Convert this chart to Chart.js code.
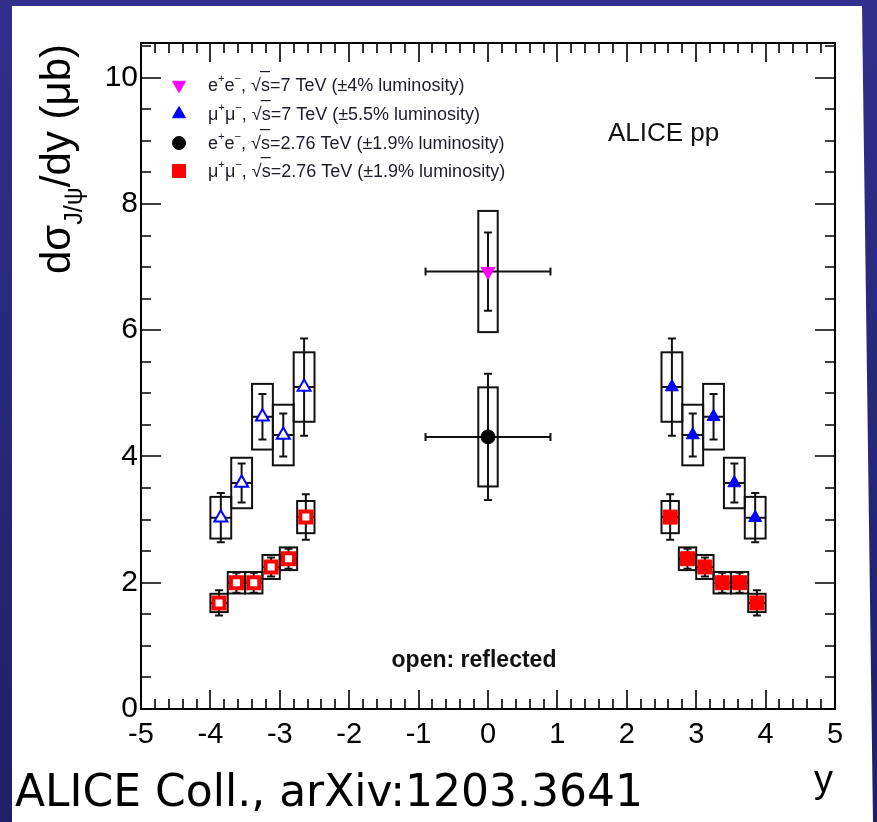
<!DOCTYPE html>
<html><head><meta charset="utf-8">
<script src="https://cdn.jsdelivr.net/npm/chart.js@4.4.1/dist/chart.umd.min.js"></script>
<style>html,body{margin:0;padding:0;background:#2e2d8a;overflow:hidden}#wrap{width:877px;height:822px}</style>
</head><body><div id="wrap"><canvas id="c" width="877" height="822"></canvas></div>
<script>
// ---- tick labels ----
const xTickLabels = [-5,-4,-3,-2,-1,0,1,2,3,4,5];
const yTickLabels = [0,2,4,6,8,10];
const xMinorStep = 0.2, yMinorStep = 0.5;
const xRange = [-5, 5], yRange = [0, 10.55];

// ---- e+e-, sqrt(s)=7 TeV ----
const ee7Y = [0];
const ee7Val = [6.93];
const ee7Stat = [0.62];
const ee7Sys = [0.96];
const ee7XErr = [0.9];

// ---- e+e-, sqrt(s)=2.76 TeV ----
const ee276Y = [0];
const ee276Val = [4.31];
const ee276Stat = [1.0];
const ee276Sys = [0.785];
const ee276XErr = [0.9];
const eeBoxHalf = 0.14;

// ---- mu+mu-, sqrt(s)=7 TeV ----
const mu7Y = [2.65, 2.95, 3.25, 3.55, 3.85];
const mu7Val = [5.10, 4.34, 4.63, 3.58, 3.03];
const mu7Stat = [0.77, 0.34, 0.36, 0.31, 0.39];
const mu7Sys = [0.55, 0.48, 0.52, 0.40, 0.33];
const mu7Half = 0.15;

// ---- mu+mu-, sqrt(s)=2.76 TeV ----
const mu276Y = [2.625, 2.875, 3.125, 3.375, 3.625, 3.875];
const mu276Val = [3.04, 2.38, 2.25, 2.0, 2.0, 1.68];
const mu276Stat = [0.36, 0.16, 0.15, 0.16, 0.16, 0.20];
const mu276Sys = [0.255, 0.18, 0.19, 0.17, 0.17, 0.145];
const mu276Half = 0.125;

function pts(xs, vals, stat, sys, xerr, box, sign, caps){
  return xs.map((v,i)=>({x: sign*v, y: vals[i], stat: stat[i], sys: sys[i],
    xerr: Array.isArray(xerr)? xerr[i] : xerr, box: box, caps: caps}));
}

const FONT = "'Liberation Sans', Arial, Helvetica, sans-serif";

const bgPlugin = {
  id:'bg',
  beforeDraw(chart){
    const ctx = chart.ctx; ctx.save();
    const g = ctx.createLinearGradient(0,0,0,822);
    g.addColorStop(0,'#302f8c'); g.addColorStop(1,'#1f1f68');
    ctx.fillStyle = g; ctx.fillRect(0,0,877,822);
    ctx.fillStyle = '#ffffff';
    ctx.beginPath(); ctx.moveTo(12,6); ctx.lineTo(862,6); ctx.lineTo(873,822); ctx.lineTo(12,822); ctx.closePath(); ctx.fill();
    ctx.restore();
  }
};

const errPlugin = {
  id:'err',
  beforeDatasetsDraw(chart){
    const ctx = chart.ctx, xs = chart.scales.x, ys = chart.scales.y;
    ctx.save();
    ctx.strokeStyle = '#111'; ctx.lineWidth = 2;
    chart.data.datasets.forEach(ds=>{
      ds.data.forEach(p=>{
        const xl = xs.getPixelForValue(p.x - p.box), xr = xs.getPixelForValue(p.x + p.box);
        const yt = ys.getPixelForValue(p.y + p.sys), yb = ys.getPixelForValue(p.y - p.sys);
        ctx.strokeRect(xl, yt, xr-xl, yb-yt);
      });
    });
    chart.data.datasets.forEach(ds=>{
      ds.data.forEach(p=>{
        const px = xs.getPixelForValue(p.x), py = ys.getPixelForValue(p.y);
        const ex1 = xs.getPixelForValue(p.x - p.xerr), ex2 = xs.getPixelForValue(p.x + p.xerr);
        const ey1 = ys.getPixelForValue(p.y + p.stat), ey2 = ys.getPixelForValue(p.y - p.stat);
        ctx.beginPath();
        ctx.moveTo(ex1, py); ctx.lineTo(ex2, py);
        ctx.moveTo(px, ey1); ctx.lineTo(px, ey2);
        ctx.moveTo(px-4, ey1); ctx.lineTo(px+4, ey1);
        ctx.moveTo(px-4, ey2); ctx.lineTo(px+4, ey2);
        if (p.caps){ ctx.moveTo(ex1, py-4); ctx.lineTo(ex1, py+4); ctx.moveTo(ex2, py-4); ctx.lineTo(ex2, py+4); }
        ctx.stroke();
      });
    });
    ctx.restore();
  }
};

const framePlugin = {
  id:'frame',
  afterDatasetsDraw(chart){
    const ctx = chart.ctx, a = chart.chartArea, xs = chart.scales.x, ys = chart.scales.y;
    ctx.save(); ctx.strokeStyle = '#000';
    ctx.lineWidth = 1.6;
    ctx.beginPath();
    for (let v = xRange[0]; v <= xRange[1] + 1e-9; v += xMinorStep){
      const r = Math.round(v*1000)/1000;
      const major = xTickLabels.includes(Math.round(r)) && Math.abs(r-Math.round(r))<1e-6;
      const L = major ? 19 : 10;
      const px = Math.round(xs.getPixelForValue(r));
      ctx.moveTo(px, a.bottom); ctx.lineTo(px, a.bottom - L);
      ctx.moveTo(px, a.top); ctx.lineTo(px, a.top + L);
    }
    for (let v = yRange[0]; v <= yRange[1] + 1e-9; v += yMinorStep){
      const r = Math.round(v*1000)/1000;
      const major = yTickLabels.includes(r);
      const L = major ? 20 : 10;
      const py = Math.round(ys.getPixelForValue(r));
      ctx.moveTo(a.left, py); ctx.lineTo(a.left + L, py);
      ctx.moveTo(a.right, py); ctx.lineTo(a.right - L, py);
    }
    ctx.stroke();
    ctx.lineWidth = 2;
    ctx.strokeRect(a.left, a.top, a.right-a.left, a.bottom-a.top);
    ctx.restore();
  }
};

function drawRich(ctx, x, y, segs, size, family, color){
  let cx = x;
  segs.forEach(s=>{
    const t = s[0], mode = s[1];
    let fs = size, dy = 0;
    if (mode==='sup'){ fs = size*0.62; dy = -size*0.42; }
    if (mode==='sub'){ fs = size*0.6; dy = size*0.28; }
    ctx.font = fs + 'px ' + family;
    ctx.fillStyle = color;
    ctx.fillText(t, cx, y + dy);
    const w = ctx.measureText(t).width;
    if (mode==='over'){
      ctx.save(); ctx.strokeStyle = color; ctx.lineWidth = 1.2;
      ctx.beginPath(); ctx.moveTo(cx-1, y - size*0.8); ctx.lineTo(cx + w, y - size*0.8); ctx.stroke(); ctx.restore();
    }
    cx += w;
  });
  return cx;
}

const legendRows = [
  {label:'ee7', segs:[['e'],['+','sup'],['e'],['\u2212','sup'],[', '],['\u221A'],['s','over'],['=7 TeV (\u00B14% luminosity)']]},
  {label:'mu7', segs:[['\u03BC'],['+','sup'],['\u03BC'],['\u2212','sup'],[', '],['\u221A'],['s','over'],['=7 TeV (\u00B15.5% luminosity)']]},
  {label:'ee276', segs:[['e'],['+','sup'],['e'],['\u2212','sup'],[', '],['\u221A'],['s','over'],['=2.76 TeV (\u00B11.9% luminosity)']]},
  {label:'mu276', segs:[['\u03BC'],['+','sup'],['\u03BC'],['\u2212','sup'],[', '],['\u221A'],['s','over'],['=2.76 TeV (\u00B11.9% luminosity)']]}
];
const legendY = [85, 114, 143, 171];

const textPlugin = {
  id:'texts',
  afterDraw(chart){
    const ctx = chart.ctx;
    ctx.save();
    // legend
    legendRows.forEach((row,i)=>{
      const ds = chart.data.datasets.find(d=>d.key===row.label);
      ctx.fillStyle = ds.backgroundColor; ctx.strokeStyle = ds.borderColor; ctx.lineWidth = ds.borderWidth;
      Chart.helpers.drawPoint(ctx, {pointStyle: ds.pointStyle, radius: ds.legendRadius, rotation: ds.rotation||0, borderWidth: ds.borderWidth}, 179, legendY[i]);
      ctx.textBaseline = 'middle'; ctx.textAlign = 'left';
      drawRich(ctx, 208, legendY[i]+1, row.segs, 18, FONT, '#1c1c2a');
    });
    // ALICE pp
    ctx.textBaseline = 'alphabetic'; ctx.textAlign = 'left';
    ctx.fillStyle = '#111'; ctx.font = '26px ' + FONT;
    ctx.fillText('ALICE pp', 608, 141);
    // open: reflected
    ctx.font = 'bold 23px ' + FONT; ctx.textAlign = 'center';
    ctx.fillText('open: reflected', 474, 667);
    // x title
    ctx.font = '38px ' + FONT; ctx.textAlign = 'right'; ctx.fillStyle = '#000';
    ctx.fillText('y', 833, 792);
    // bottom reference
    ctx.font = '44px "DejaVu Sans", Verdana, sans-serif'; ctx.textAlign = 'left'; ctx.fillStyle = '#000';
    ctx.fillText('ALICE Coll., arXiv:1203.3641', 15, 806);
    // y title
    ctx.save();
    ctx.translate(70, 274); ctx.rotate(-Math.PI/2);
    ctx.textAlign = 'left'; ctx.textBaseline = 'alphabetic';
    drawRich(ctx, 0, 0, [['d\u03C3'],['J/\u03C8','sub'],['/dy (\u03BCb)']], 42, FONT, '#000');
    ctx.restore();
    ctx.restore();
  }
};

const datasets = [
  {key:'ee7', data: pts(ee7Y, ee7Val, ee7Stat, ee7Sys, ee7XErr, eeBoxHalf, 1, true),
   pointStyle:'triangle', rotation:180, pointRadius:8, legendRadius:7.5, backgroundColor:'#ff00ff', borderColor:'#ff00ff', borderWidth:1},
  {key:'ee276', data: pts(ee276Y, ee276Val, ee276Stat, ee276Sys, ee276XErr, eeBoxHalf, 1, true),
   pointStyle:'circle', pointRadius:7, legendRadius:6.5, backgroundColor:'#000000', borderColor:'#000000', borderWidth:1},
  {key:'mu7', data: pts(mu7Y, mu7Val, mu7Stat, mu7Sys, mu7Half, mu7Half, 1, false),
   pointStyle:'triangle', rotation:0, pointRadius:7.5, legendRadius:7.5, backgroundColor:'#0000ff', borderColor:'#0000ff', borderWidth:1},
  {key:'mu7r', data: pts(mu7Y, mu7Val, mu7Stat, mu7Sys, mu7Half, mu7Half, -1, false),
   pointStyle:'triangle', rotation:0, pointRadius:7.5, backgroundColor:'#ffffff', borderColor:'#0000ff', borderWidth:2},
  {key:'mu276', data: pts(mu276Y, mu276Val, mu276Stat, mu276Sys, mu276Half, mu276Half, 1, false),
   pointStyle:'rect', pointRadius:9.9, legendRadius:9.2, backgroundColor:'#ff0000', borderColor:'#ff0000', borderWidth:1},
  {key:'mu276r', data: pts(mu276Y, mu276Val, mu276Stat, mu276Sys, mu276Half, mu276Half, -1, false),
   pointStyle:'rect', pointRadius:7.8, backgroundColor:'#ffffff', borderColor:'#ff0000', borderWidth:4}
];
datasets.forEach(d=>{ d.pointRotation = d.rotation||0; d.pointBackgroundColor = d.backgroundColor; d.pointBorderColor = d.borderColor; d.pointBorderWidth = d.borderWidth; d.showLine = false; });

new Chart(document.getElementById('c'), {
  type:'scatter',
  data:{datasets},
  options:{
    responsive:false, animation:false, events:[], devicePixelRatio:1,
    layout:{padding:{top:43, right:42, left:0, bottom:0}},
    plugins:{legend:{display:false}, tooltip:{enabled:false}},
    scales:{
      x:{type:'linear', min:xRange[0], max:xRange[1],
         ticks:{stepSize:1, autoSkip:false, maxRotation:0, padding:9, color:'#000', font:{family:FONT, size:29}, callback:v=>String(v)},
         grid:{display:false, drawTicks:false}, border:{display:false},
         afterFit(s){ s.height = 113; }},
      y:{type:'linear', min:yRange[0], max:yRange[1],
         ticks:{stepSize:2, includeBounds:false, padding:3, color:'#000', font:{family:FONT, size:30}, callback:v=>String(v)},
         grid:{display:false, drawTicks:false}, border:{display:false},
         afterFit(s){ s.width = 141; }}
    }
  },
  plugins:[bgPlugin, errPlugin, framePlugin, textPlugin]
});
</script></body></html>
